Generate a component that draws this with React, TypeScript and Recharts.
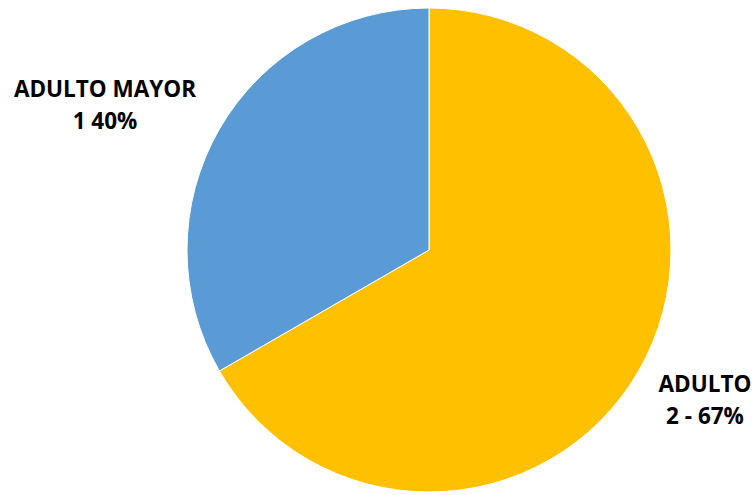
import { PieChart, Pie, Cell } from "recharts";

const categories = ["ADULTO", "ADULTO MAYOR"];
const values = [2, 1];
const labelLines = [
    ["ADULTO", "2 - 67%"],
    ["ADULTO MAYOR", "1 40%"],
];
const colors = ["#FFC000", "#5B9BD5"];

// label centres (first baseline), relative to the pie centre
const labelOffsets = [
    { dx: 276, dy: 142 },
    { dx: -324, dy: -153 },
];

const data = categories.map((name, i) => ({ name, value: values[i] }));

function renderLabel(props: any) {
    const { cx, cy, index } = props;
    const off = labelOffsets[index];
    const lines = labelLines[index];
    return (
        <text
            x={cx + off.dx}
            y={cy + off.dy}
            textAnchor="middle"
            fill="#000"
            fontFamily="'Open Sans', sans-serif"
            fontWeight={700}
            fontSize={22.5}
        >
            {lines.map((l, i) => (
                <tspan key={i} x={cx + off.dx} dy={i === 0 ? 0 : 32}>
                    {l}
                </tspan>
            ))}
        </text>
    );
}

export default function App() {
    return (
        <div style={{ position: "absolute", left: 0, top: 0, width: 755, height: 495, background: "#fff" }}>
            <PieChart width={755} height={495} margin={{ top: 0, right: 0, bottom: 0, left: 0 }}>
                <Pie
                    data={data}
                    dataKey="value"
                    nameKey="name"
                    cx={429}
                    cy={250}
                    outerRadius={242}
                    startAngle={90}
                    endAngle={-270}
                    stroke="#fff"
                    strokeWidth={1}
                    label={renderLabel}
                    labelLine={false}
                    isAnimationActive={false}
                >
                    {data.map((d, i) => (
                        <Cell key={d.name} fill={colors[i]} />
                    ))}
                </Pie>
            </PieChart>
        </div>
    );
}
